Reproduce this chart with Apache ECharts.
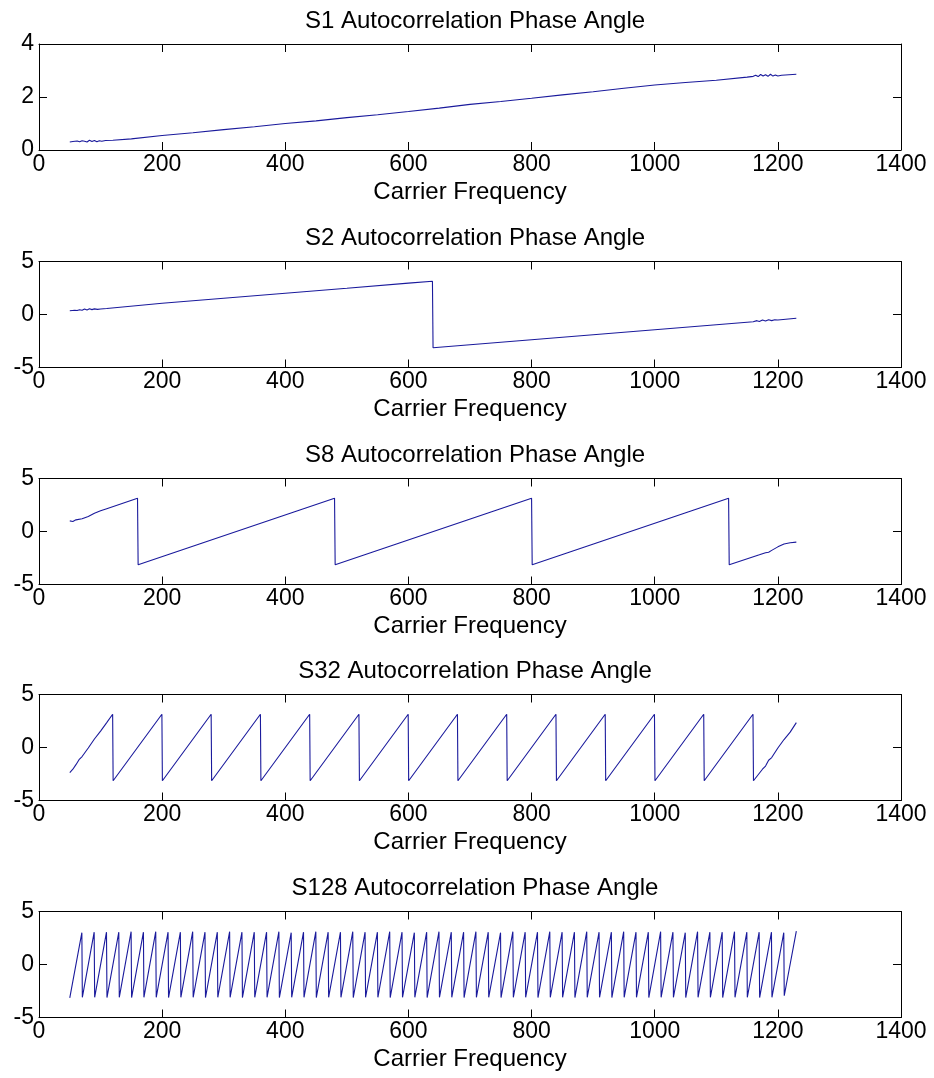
<!DOCTYPE html>
<html>
<head>
<meta charset="utf-8">
<title>Autocorrelation Phase Angle</title>
<script src="https://cdn.jsdelivr.net/npm/echarts@6/dist/echarts.min.js"></script>
<style>
  html, body { margin: 0; padding: 0; background: #ffffff; }
  #chart { width: 934px; height: 1078px; }
</style>
</head>
<body>
<div id="chart"></div>
<script>
// Panel titles
const titles = [
  'S1 Autocorrelation Phase Angle',
  'S2 Autocorrelation Phase Angle',
  'S8 Autocorrelation Phase Angle',
  'S32 Autocorrelation Phase Angle',
  'S128 Autocorrelation Phase Angle'
];
const xLabel = 'Carrier Frequency';

// Axis ranges [min, max, interval] for each panel
const xRange = [0, 1400, 200];
const yRanges = [
  [0, 4, 2],
  [-5, 5, 5],
  [-5, 5, 5],
  [-5, 5, 5],
  [-5, 5, 5]
];

// S1: phase angle vs carrier frequency
const s1 = [
  [50, 0.30], [55, 0.32], [58, 0.30], [62, 0.34], [66, 0.31], [70, 0.35],
  [74, 0.33], [78, 0.30], [82, 0.37], [86, 0.32], [90, 0.36], [94, 0.31],
  [98, 0.35], [102, 0.33], [108, 0.36], [120, 0.37], [150, 0.42], [200, 0.55],
  [250, 0.65], [300, 0.77], [350, 0.88], [400, 1.00], [450, 1.10], [500, 1.22],
  [550, 1.33], [600, 1.45], [650, 1.58], [700, 1.72], [750, 1.83], [800, 1.95],
  [850, 2.08], [900, 2.20], [950, 2.33], [1000, 2.45], [1050, 2.55],
  [1100, 2.63], [1150, 2.75], [1160, 2.78], [1164, 2.82], [1168, 2.77],
  [1172, 2.85], [1176, 2.79], [1180, 2.84], [1184, 2.78], [1188, 2.86],
  [1192, 2.79], [1196, 2.83], [1200, 2.79], [1206, 2.82], [1230, 2.86]
];

// S2: one wrap at 640
const s2 = [
  [50, 0.35], [58, 0.40], [62, 0.37], [66, 0.45], [70, 0.40], [74, 0.52],
  [78, 0.43], [82, 0.54], [86, 0.46], [90, 0.53], [95, 0.48], [100, 0.52],
  [110, 0.57], [200, 1.06], [300, 1.53], [400, 2.01], [500, 2.48], [600, 2.96],
  [639, 3.14], [640, -3.14], [700, -2.86], [800, -2.38], [900, -1.91],
  [1000, -1.44], [1100, -0.97], [1160, -0.68], [1166, -0.58], [1170, -0.66],
  [1175, -0.52], [1180, -0.62], [1185, -0.49], [1190, -0.58], [1195, -0.50],
  [1200, -0.52], [1230, -0.35]
];

// S8: wraps at 160, 480, 800, 1120
const s8 = [
  [50, 1.00], [55, 0.95], [60, 1.10], [70, 1.20], [80, 1.42], [90, 1.72],
  [100, 1.95], [110, 2.15], [160, 3.14], [161, -3.14], [480, 3.14],
  [481, -3.14], [800, 3.14], [801, -3.14], [1120, 3.14], [1121, -3.14],
  [1170, -2.20], [1180, -2.00], [1185, -1.95], [1190, -1.78], [1200, -1.45],
  [1210, -1.18], [1220, -1.06], [1230, -1.00]
];

// S32: leading ramp, wrap frequencies, trailing ramp
const s32Head = [
  [50, -2.36], [55, -2.05], [60, -1.62], [65, -1.15], [70, -0.85],
  [80, -0.05], [90, 0.80], [100, 1.55], [110, 2.35]
];
const s32Wraps = [120, 200, 280, 360, 440, 520, 600, 680, 760, 840, 920, 1000, 1080, 1160];
const s32Tail = [
  [1175, -2.05], [1180, -1.75], [1185, -1.20], [1190, -0.95], [1200, -0.05],
  [1210, 0.75], [1220, 1.45], [1230, 2.35]
];

// S128: leading point, wrap frequencies with peak / trough values, trailing point
const s128Head = [[50, -3.14]];
const s128Wraps = [
  70, 90, 110, 130, 150, 170, 190, 210, 230, 250, 270, 290, 310, 330, 350,
  370, 390, 410, 430, 450, 470, 490, 510, 530, 550, 570, 590, 610, 630, 650,
  670, 690, 710, 730, 750, 770, 790, 810, 830, 850, 870, 890, 910, 930, 950,
  970, 990, 1010, 1030, 1050, 1070, 1090, 1110, 1130, 1150, 1170, 1190, 1210
];
const s128Peaks = [
  3.00, 3.05, 3.05, 3.05, 3.10, 3.05, 3.10, 3.05, 3.05, 3.10, 3.05, 3.05, 3.10, 3.05, 3.05,
  3.05, 3.10, 3.00, 3.05, 3.10, 3.05, 3.05, 3.10, 3.05, 3.05, 3.10, 3.05, 3.00, 3.05, 3.10,
  3.05, 3.05, 3.10, 3.05, 3.00, 3.10, 3.05, 3.05, 3.10, 3.05, 3.05, 3.10, 3.05, 3.05, 3.10,
  3.05, 3.05, 3.10, 3.05, 3.00, 3.10, 3.05, 3.05, 3.10, 3.05, 3.05, 3.05, 3.00
];
const s128Troughs = [
  -3.10, -3.10, -3.12, -3.10, -3.12, -3.10, -3.10, -3.12, -3.10, -3.10, -3.12, -3.10, -3.10, -3.12, -3.10,
  -3.10, -3.12, -3.10, -3.10, -3.12, -3.10, -3.10, -3.12, -3.10, -3.10, -3.12, -3.10, -3.10, -3.12, -3.10,
  -3.10, -3.12, -3.10, -3.10, -3.12, -3.10, -3.10, -3.12, -3.10, -3.10, -3.12, -3.10, -3.10, -3.12, -3.10,
  -3.10, -3.12, -3.10, -3.10, -3.12, -3.10, -3.10, -3.12, -3.10, -3.10, -3.12, -3.10, -2.95
];
const s128Tail = [[1230, 3.14]];

// Build a wrapped-phase polyline: each wrap drops from its peak to its trough
function wrapped(head, wraps, peaks, troughs, tail) {
  const pts = head.slice();
  wraps.forEach((x, i) => {
    pts.push([x - 0.4, peaks ? peaks[i] : 3.14]);
    pts.push([x + 0.4, troughs ? troughs[i] : -3.14]);
  });
  return pts.concat(tail);
}

const seriesData = [
  s1,
  s2,
  s8,
  wrapped(s32Head, s32Wraps, null, null, s32Tail),
  wrapped(s128Head, s128Wraps, s128Peaks, s128Troughs, s128Tail)
];

// Layout of the five stacked panels
const plotLeft = 39, plotRight = 33, plotHeight = 106;
const plotTops = [44, 261.5, 478.5, 694.5, 911.5];
const FONT = '"Liberation Sans", Arial, Helvetica, sans-serif';
const LINE_BLUE = '#1a1a9c';
const tickStyle = { show: true, inside: true, length: 8, lineStyle: { color: '#000', width: 1 } };
const boxLine = { show: true, onZero: false, lineStyle: { color: '#000', width: 1 } };
const plainNumber = v => String(v);

const option = {
  backgroundColor: '#ffffff',
  animation: false,
  title: [],
  grid: [],
  xAxis: [],
  yAxis: [],
  series: []
};

plotTops.forEach((top, i) => {
  option.grid.push({ left: plotLeft, right: plotRight, top: top, height: plotHeight, containLabel: false });

  option.title.push({
    text: titles[i],
    left: plotLeft + (934 - plotLeft - plotRight) / 2,
    top: top - 40,
    textAlign: 'center',
    textStyle: { fontFamily: FONT, fontSize: 24, fontWeight: 'normal', color: '#000' }
  });

  // bottom x axis with labels and name
  option.xAxis.push({
    type: 'value', gridIndex: i, position: 'bottom',
    min: xRange[0], max: xRange[1], interval: xRange[2],
    axisLine: boxLine, axisTick: tickStyle, splitLine: { show: false },
    axisLabel: { fontFamily: FONT, fontSize: 23, color: '#000', margin: 3, formatter: plainNumber },
    name: xLabel, nameLocation: 'middle', nameGap: 30,
    nameTextStyle: { fontFamily: FONT, fontSize: 24, color: '#000' }
  });
  // top x axis: box edge with ticks only
  option.xAxis.push({
    type: 'value', gridIndex: i, position: 'top',
    min: xRange[0], max: xRange[1], interval: xRange[2],
    axisLine: boxLine, axisTick: tickStyle, splitLine: { show: false },
    axisLabel: { show: false }
  });
  // left y axis with labels
  option.yAxis.push({
    type: 'value', gridIndex: i, position: 'left',
    min: yRanges[i][0], max: yRanges[i][1], interval: yRanges[i][2],
    axisLine: boxLine, axisTick: tickStyle, splitLine: { show: false },
    axisLabel: { fontFamily: FONT, fontSize: 23, color: '#000', margin: 5, formatter: plainNumber }
  });
  // right y axis: box edge with ticks only
  option.yAxis.push({
    type: 'value', gridIndex: i, position: 'right',
    min: yRanges[i][0], max: yRanges[i][1], interval: yRanges[i][2],
    axisLine: boxLine, axisTick: tickStyle, splitLine: { show: false },
    axisLabel: { show: false }
  });

  option.series.push({
    type: 'line',
    xAxisIndex: i * 2,
    yAxisIndex: i * 2,
    data: seriesData[i],
    showSymbol: false,
    symbol: 'none',
    clip: true,
    lineStyle: { color: LINE_BLUE, width: 1.1 },
    emphasis: { disabled: true }
  });
});

const chart = echarts.init(document.getElementById('chart'), null, { renderer: 'canvas' });
chart.setOption(option);
</script>
</body>
</html>
